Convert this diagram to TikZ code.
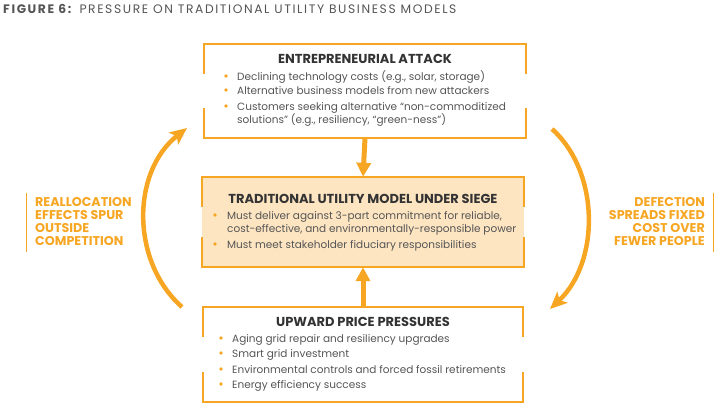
\documentclass[tikz,border=0pt]{standalone}
\usepackage{fontspec}
\setmainfont{Poppins}
\usetikzlibrary{arrows.meta}
\definecolor{orng}{HTML}{F6A623}
\definecolor{lightorng}{HTML}{FDE5C2}
\definecolor{txt}{HTML}{555555}
\definecolor{head}{HTML}{333333}
\tikzset{
  x=1pt, y=-1pt,
  boxnode/.style={minimum width=322pt, inner sep=0pt, draw=none},
  frame/.style={draw=orng, line width=2.5pt},
  htext/.style={font=\fontsize{13}{15}\selectfont\bfseries, text=head, anchor=mid},
  btext/.style={font=\fontsize{10.5}{12}\selectfont, text=txt, anchor=mid west, inner sep=0pt},
  bdot/.style={circle, fill=orng, minimum size=3.6pt, inner sep=0pt},
  sidetext/.style={font=\fontsize{12.7}{13}\selectfont\bfseries, text=orng, inner sep=0pt},
  straight/.style={draw=orng, line width=5pt, -{Triangle[length=14pt,width=14pt]}},
  curved/.style={draw=orng, line width=4.5pt, -{Stealth[length=17pt,width=15pt,inset=4pt]}}
}
\newcommand\myframe[1]{%
  \draw[frame] ([yshift=-30pt]#1.north west) -- (#1.north west) -- (#1.north east) -- ([yshift=-30pt]#1.north east);
  \draw[frame] ([yshift=30pt]#1.south west) -- (#1.south west) -- (#1.south east) -- ([yshift=30pt]#1.south east);
}
\begin{document}
\begin{tikzpicture}
\useasboundingbox (0,0) rectangle (718,411);
% title
\node[anchor=mid west, inner sep=0pt, text=txt, font=\fontsize{12.3}{13}\selectfont\addfontfeatures{LetterSpace=13}] (title) at (3,11) {\textbf{FIGURE 6:} PRESSURE ON TRADITIONAL UTILITY BUSINESS MODELS};
% boxes
\node[boxnode, minimum height=94pt] (b1) at (365,91) {};
\node[boxnode, minimum height=90pt, fill=lightorng] (b2) at (363,222) {};
\node[boxnode, minimum height=95pt, minimum width=320pt] (b3) at (363,354.5) {};
\myframe{b1}
\myframe{b2}
\myframe{b3}
% box 1 text
\node[htext] (h1) at (365,61) {ENTREPRENEURIAL ATTACK};
\node[bdot] (d1a) at (226,76) {};
\node[btext] (t1a) at (237,78) {Declining technology costs (e.g., solar, storage)};
\node[bdot] (d1b) at (226,90) {};
\node[btext] (t1b) at (237,92) {Alternative business models from new attackers};
\node[bdot] (d1c) at (226,106) {};
\node[btext] (t1c) at (237,108) {Customers seeking alternative “non-commoditized};
\node[btext] (t1d) at (237,121) {solutions” (e.g., resiliency, “green-ness”)};
% box 2 text
\node[htext] (h2) at (363,201) {TRADITIONAL UTILITY MODEL UNDER SIEGE};
\node[bdot] (d2a) at (215,215) {};
\node[btext] (t2a) at (227,217) {Must deliver against 3-part commitment for reliable,};
\node[btext] (t2b) at (227,230) {cost-effective, and environmentally-responsible power};
\node[bdot] (d2b) at (215,244) {};
\node[btext] (t2c) at (227,246) {Must meet stakeholder fiduciary responsibilities};
% box 3 text
\node[htext] (h3) at (363,324) {UPWARD PRICE PRESSURES};
\node[bdot] (d3a) at (221,338) {};
\node[btext] (t3a) at (232,340) {Aging grid repair and resiliency upgrades};
\node[bdot] (d3b) at (221,353) {};
\node[btext] (t3b) at (232,355) {Smart grid investment};
\node[bdot] (d3c) at (221,369) {};
\node[btext] (t3c) at (232,371) {Environmental controls and forced fossil retirements};
\node[bdot] (d3d) at (221,384) {};
\node[btext] (t3d) at (232,386) {Energy efficiency success};
% straight arrows
\draw[straight] (b1.south) -- (b2.north);
\draw[straight] (b3.north) -- (b2.south);
% curved arrows
\coordinate (la) at (182,307);
\coordinate (lb) at (187,128);
\draw[curved] (la) .. controls (131,262) and (131,172) .. (lb);
\coordinate (ra) at (552,129);
\coordinate (rb) at (550,309);
\draw[curved] (ra) .. controls (600,172) and (600,262) .. (rb);
% side texts
\node[sidetext, anchor=north west, align=left] (lt) at (35,197) {REALLOCATION\\EFFECTS SPUR\\OUTSIDE\\COMPETITION};
\coordinate (lv1) at (26,193);
\coordinate (lv2) at (26,252);
\draw[orng, line width=1pt] (lv1) -- (lv2);
\node[sidetext, anchor=north east, align=right] (rt) at (705,197) {DEFECTION\\SPREADS FIXED\\COST OVER\\FEWER PEOPLE};
\coordinate (rv1) at (713,193);
\coordinate (rv2) at (713,252);
\draw[orng, line width=1pt] (rv1) -- (rv2);
\end{tikzpicture}
\end{document}
